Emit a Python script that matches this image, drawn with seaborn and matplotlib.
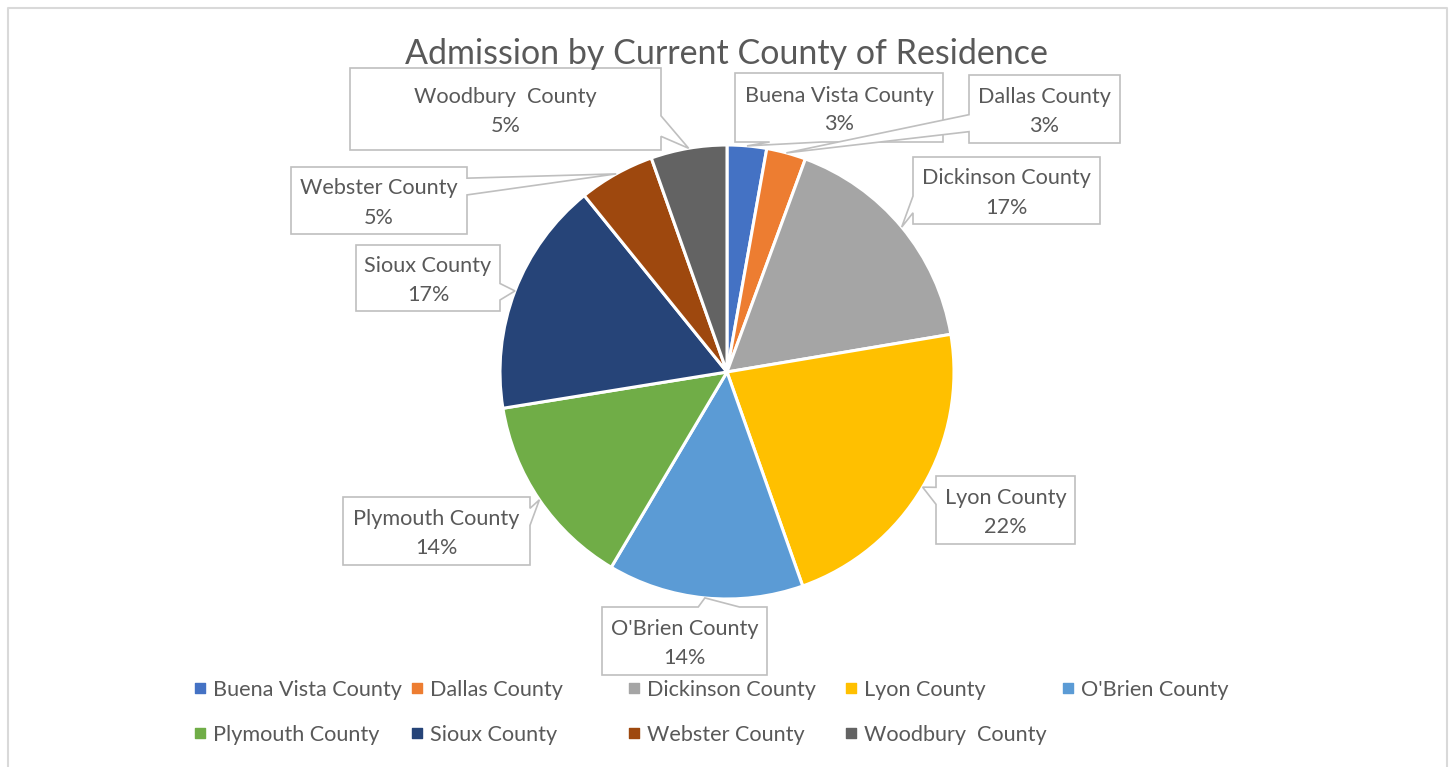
import numpy as np
import matplotlib
matplotlib.use("Agg")
import matplotlib.pyplot as plt
import seaborn as sns
from matplotlib.patches import Polygon

# data
counties = ["Buena Vista County", "Dallas County", "Dickinson County", "Lyon County",
            "O'Brien County", "Plymouth County", "Sioux County", "Webster County",
            "Woodbury  County"]
shares = [2.8, 2.8, 16.7, 22.2, 13.9, 13.9, 16.7, 5.4, 5.4]
colors = ["#4472C4", "#ED7D31", "#A5A5A5", "#FFC000", "#5B9BD5",
          "#70AD47", "#264478", "#9E480E", "#636363"]
title = "Admission by Current County of Residence"

# layout (pixels)
W, H = 1455, 767
cx, cy, r = 727, 372, 227
boxes = {
    "Buena Vista County": (735, 73, 943, 142),
    "Dallas County": (969, 75, 1120, 143),
    "Dickinson County": (913, 157, 1100, 224),
    "Lyon County": (936, 476, 1075, 544),
    "O'Brien County": (602, 607, 767, 675),
    "Plymouth County": (343, 497, 530, 565),
    "Sioux County": (356, 245, 500, 311),
    "Webster County": (291, 167, 467, 234),
    "Woodbury  County": (350, 68, 661, 150),
}
txt_col = "#595959"
fs = 15.6

sns.set_theme(style="white")
plt.rcParams['font.family'] = ['Lato', 'DejaVu Sans']
pal = sns.color_palette(colors)

fig = plt.figure(figsize=(W / 100, H / 100), dpi=100)
ax = fig.add_axes([(cx - r) / W, (H - cy - r) / H, 2 * r / W, 2 * r / H])
wedges, _ = ax.pie(shares, colors=pal, startangle=90, counterclock=False,
                   wedgeprops=dict(edgecolor="white", linewidth=2.2))
ax.set_xlim(-1, 1)
ax.set_ylim(-1, 1)
ax.set_aspect("equal")

# overlay in pixel coords
ov = fig.add_axes([0, 0, 1, 1], zorder=5)
ov.set_xlim(0, W)
ov.set_ylim(H, 0)
ov.axis("off")
ov.patch.set_alpha(0)

# chart border
ov.plot([7.5, 7.5, 1446.5, 1446.5], [H, 7.5, 7.5, H], color="#D9D9D9", lw=1.5)

ov.text(cx - 1, 54, title, ha="center", va="center", fontsize=24.5, color=txt_col)


def callout(box, tip):
    x0, y0, x1, y1 = box
    w, h = x1 - x0, y1 - y0
    hc, vc = (x0 + x1) / 2, (y0 + y1) / 2
    dxp, dyp = tip[0] - hc, tip[1] - vc
    xa, xb = (x0 + w * 7 / 12, x0 + w * 10 / 12) if dxp > 0 else (x0 + w * 2 / 12, x0 + w * 5 / 12)
    ya, yb = (y0 + h * 7 / 12, y0 + h * 10 / 12) if dyp > 0 else (y0 + h * 2 / 12, y0 + h * 5 / 12)
    inside = x0 <= tip[0] <= x1 and y0 <= tip[1] <= y1
    pts = [(x0, y0)]
    horiz = abs(dxp * h / w) > abs(dyp)
    if not inside and not horiz and dyp < 0:
        pts += [(xa, y0), tip, (xb, y0)]
    pts.append((x1, y0))
    if not inside and horiz and dxp > 0:
        pts += [(x1, ya), tip, (x1, yb)]
    pts.append((x1, y1))
    if not inside and not horiz and dyp > 0:
        pts += [(xb, y1), tip, (xa, y1)]
    pts.append((x0, y1))
    if not inside and horiz and dxp < 0:
        pts += [(x0, yb), tip, (x0, ya)]
    return pts


total = sum(shares)
for wdg, name, val in zip(wedges, counties, shares):
    mid = np.deg2rad((wdg.theta1 + wdg.theta2) / 2)
    tip = (cx + r * np.cos(mid), cy - r * np.sin(mid))
    box = boxes[name]
    ov.add_patch(Polygon(callout(box, tip), closed=True, facecolor="white",
                         edgecolor="#BFBFBF", lw=1.2))
    bx = (box[0] + box[2]) / 2
    by = (box[1] + box[3]) / 2
    ov.text(bx, by - 12, name, ha="center", va="center", fontsize=fs, color=txt_col)
    ov.text(bx, by + 17, f"{round(val / total * 100)}%", ha="center", va="center",
            fontsize=fs, color=txt_col)

# legend, two rows with equal column widths
for i, (name, c) in enumerate(zip(counties, pal)):
    row, col = divmod(i, 5)
    lx, ly = 200 + 217 * col, 688 + 45 * row
    ov.scatter([lx], [ly], marker="s", s=45, color=c)
    ov.text(lx + 13, ly + 2, name, ha="left", va="center", fontsize=fs, color=txt_col)

fig.savefig("out.png", dpi=100)
